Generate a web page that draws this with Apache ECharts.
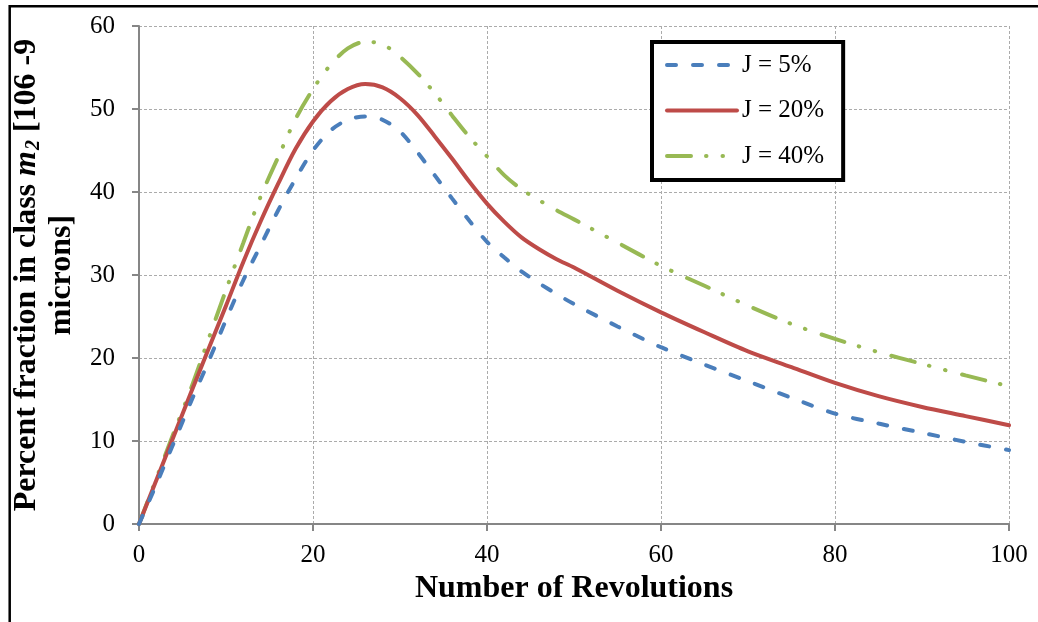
<!DOCTYPE html>
<html>
<head>
<meta charset="utf-8">
<title>Percent fraction in class m2 vs number of revolutions</title>
<script src="https://cdn.jsdelivr.net/npm/echarts@6/dist/echarts.min.js"></script>
<style>
  html, body { margin: 0; padding: 0; background: #fff; }
  #chart { width: 1038px; height: 622px; }
</style>
</head>
<body>
<div id="chart"></div>
<script>
// Number of revolutions at which each curve is sampled
const revolutions = [0, 2, 4, 6, 8, 10, 12, 14, 16, 18, 20, 22, 24, 26, 28, 30, 32, 34, 36, 38, 40,
                     42, 44, 46, 48, 50, 55, 60, 65, 70, 75, 80, 85, 90, 95, 100];

// Percent fraction in class m2 for each filling level J
const j5 = [0, 4.8, 9.8, 14.8, 19.6, 24.6, 29.4, 33.6, 37.8, 41.6, 45.0, 47.4, 48.7, 49.1, 48.7, 47.3, 44.8, 42.0, 39.2, 36.5, 34.0,
            32.1, 30.4, 29.0, 27.7, 26.5, 23.8, 21.3, 19.2, 17.2, 15.2, 13.3, 12.1, 11.0, 9.9, 8.9];
const j20 = [0, 5.3, 10.6, 15.9, 21.1, 26.3, 31.6, 36.5, 41.0, 45.2, 48.5, 50.9, 52.4, 53.0, 52.6, 51.3, 49.3, 46.7, 44.0, 41.2, 38.6,
             36.4, 34.5, 33.1, 31.9, 30.9, 28.1, 25.5, 23.1, 20.8, 18.9, 17.0, 15.4, 14.1, 13.0, 11.9];
const j40 = [0, 5.5, 11.0, 16.4, 22.3, 28.2, 33.9, 39.5, 44.2, 48.8, 52.4, 55.3, 57.3, 58.1, 57.8, 56.3, 54.3, 51.9, 49.2, 46.6, 44.3,
             42.0, 40.3, 39.0, 37.8, 36.7, 33.9, 31.1, 28.7, 26.3, 24.1, 22.3, 20.7, 19.3, 17.9, 16.6];

const seriesNames = ['J = 5%', 'J = 20%', 'J = 40%'];
const xTicks = { min: 0, max: 100, step: 20 };
const yTicks = { min: 0, max: 60, step: 10 };

const serif = '"Liberation Serif", "Times New Roman", serif';

function pairs(ys) {
  return revolutions.map((x, i) => [x, ys[i]]);
}

const chart = echarts.init(document.getElementById('chart'), null, { renderer: 'canvas' });

const option = {
  animation: false,
  backgroundColor: '#ffffff',
  textStyle: { fontFamily: serif, color: '#000' },
  grid: { left: 139, top: 26, right: 29, bottom: 98, containLabel: false },
  graphic: [{
    type: 'rect',
    shape: { x: 9.7, y: 6.2, width: 1100, height: 700 },
    style: { fill: 'none', stroke: '#000', lineWidth: 2.5 },
    silent: true,
    z: 100
  }],
  legend: {
    left: 652,
    top: 42,
    orient: 'vertical',
    data: seriesNames,
    itemWidth: 70,
    itemHeight: 20,
    itemGap: 20.5,
    padding: [10.5, 19, 11.5, 13],
    backgroundColor: '#fff',
    borderColor: '#000',
    borderWidth: 4,
    borderRadius: 0,
    itemStyle: { opacity: 0 },
    lineStyle: { width: 4, cap: 'round' },
    textStyle: { fontFamily: serif, fontSize: 25, color: '#000' }
  },
  xAxis: {
    type: 'value',
    min: xTicks.min,
    max: xTicks.max,
    interval: xTicks.step,
    name: 'Number of Revolutions',
    nameLocation: 'middle',
    nameGap: 40,
    nameTextStyle: { fontFamily: serif, fontSize: 32, fontWeight: 'bold', color: '#000' },
    axisLine: { show: true, onZero: false, lineStyle: { color: '#868686', width: 2 } },
    axisTick: { show: true, inside: false, length: 7, lineStyle: { color: '#868686', width: 2 } },
    axisLabel: { fontFamily: serif, fontSize: 25, color: '#000', margin: 19 },
    splitLine: { show: true, lineStyle: { color: '#ababab', width: 1, type: [3, 2] } }
  },
  yAxis: {
    type: 'value',
    min: yTicks.min,
    max: yTicks.max,
    interval: yTicks.step,
    name: 'Percent fraction in class {m|m}{s|2} [106 -9\nmicrons]',
    nameLocation: 'middle',
    nameRotate: 90,
    nameGap: 48,
    nameTextStyle: {
      fontFamily: serif, fontSize: 32, fontWeight: 'bold', color: '#000', lineHeight: 35,
      rich: {
        m: { fontFamily: serif, fontSize: 32, fontWeight: 'bold', fontStyle: 'italic', color: '#000', lineHeight: 35 },
        s: { fontFamily: serif, fontSize: 20, fontWeight: 'bold', fontStyle: 'italic', color: '#000', lineHeight: 35, verticalAlign: 'bottom', padding: [0, 0, 0, 1] }
      }
    },
    axisLine: { show: true, onZero: false, lineStyle: { color: '#868686', width: 2 } },
    axisTick: { show: true, inside: false, length: 7, lineStyle: { color: '#868686', width: 2 } },
    axisLabel: { fontFamily: serif, fontSize: 25, color: '#000', margin: 24 },
    splitLine: { show: true, lineStyle: { color: '#ababab', width: 1, type: [3, 2] } }
  },
  series: [
    {
      name: seriesNames[0],
      type: 'line',
      data: pairs(j5),
      smooth: 0.3,
      symbol: 'none',
      showSymbol: false,
      z: 3,
      lineStyle: { color: '#4A7EBB', width: 4, type: [9, 17], cap: 'round' },
      itemStyle: { color: '#4A7EBB' }
    },
    {
      name: seriesNames[1],
      type: 'line',
      data: pairs(j20),
      smooth: 0.3,
      symbol: 'none',
      showSymbol: false,
      z: 2,
      lineStyle: { color: '#BE4B48', width: 4, type: 'solid', cap: 'round' },
      itemStyle: { color: '#BE4B48' }
    },
    {
      name: seriesNames[2],
      type: 'line',
      data: pairs(j40),
      smooth: 0.3,
      symbol: 'none',
      showSymbol: false,
      z: 1,
      lineStyle: { color: '#98B954', width: 4, type: [24, 15, 0.5, 16, 0.5, 17], cap: 'round' },
      itemStyle: { color: '#98B954' }
    }
  ]
};

chart.setOption(option);
</script>
</body>
</html>
